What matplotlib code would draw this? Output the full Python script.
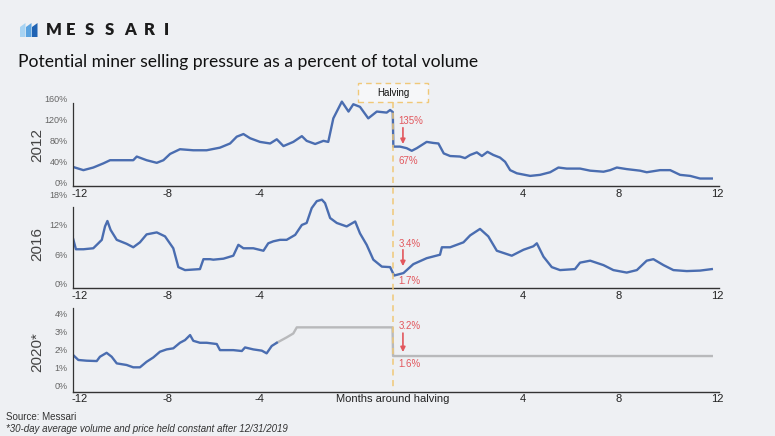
import matplotlib
matplotlib.use("Agg")
import matplotlib.pyplot as plt
import matplotlib.transforms as mtransforms
from matplotlib.patches import Rectangle, Polygon
from matplotlib.lines import Line2D

plt.rcParams["font.family"] = ["Liberation Sans", "DejaVu Sans"]

# ── data (months around halving, % of total volume) ──────────────────────────
x_2012 = [-11.99, -11.61, -11.24, -10.86, -10.61, -10.24, -9.74, -9.61, -9.24, -8.86,
          -8.61, -8.36, -7.99, -7.49, -6.99, -6.49, -6.11, -5.86, -5.61, -5.36,
          -4.99, -4.61, -4.36, -4.11, -3.74, -3.42, -3.24, -2.92, -2.61, -2.43,
          -2.24, -1.92, -1.67, -1.49, -1.24, -0.93, -0.61, -0.24, -0.11, -0.01,
          0.01, 0.26, 0.51, 0.70, 0.89, 1.26, 1.51, 1.70, 1.90, 2.14,
          2.51, 2.70, 2.89, 3.14, 3.33, 3.54, 3.76, 4.01, 4.20, 4.39,
          4.64, 5.14, 5.51, 5.89, 6.20, 6.51, 7.01, 7.39, 7.89, 8.14,
          8.39, 8.76, 9.26, 9.51, 10.01, 10.39, 10.76, 11.14, 11.51, 11.95]
y_2012 = [30, 24, 29, 37, 43, 43, 43, 50, 43, 38,
          43, 55, 64, 62, 62, 67, 75, 88, 93, 85,
          78, 75, 83, 70, 78, 89, 80, 74, 80, 78,
          123, 155, 136, 150, 145, 123, 136, 134, 139, 135,
          69, 69, 66, 61, 66, 78, 76, 75, 56, 51,
          50, 47, 53, 58, 51, 59, 53, 48, 40, 24,
          18, 13, 15, 20, 29, 27, 27, 23, 21, 24,
          29, 26, 23, 20, 24, 24, 15, 13, 8, 8]

x_2016 = [-11.99, -11.89, -11.61, -11.24, -11.05, -10.92, -10.80, -10.71, -10.59, -10.36,
          -9.99, -9.74, -9.49, -9.24, -8.86, -8.55, -8.24, -8.05, -7.80, -7.24,
          -7.11, -6.86, -6.74, -6.36, -5.99, -5.80, -5.61, -5.24, -4.86, -4.68,
          -4.49, -4.24, -3.99, -3.67, -3.42, -3.24, -3.05, -2.86, -2.67, -2.55,
          -2.36, -2.11, -1.74, -1.42, -1.24, -0.99, -0.74, -0.42, -0.11, 0.04,
          0.39, 0.76, 1.26, 1.76, 1.83, 2.14, 2.64, 2.89, 3.26, 3.57,
          3.89, 4.45, 4.89, 5.26, 5.39, 5.64, 5.95, 6.26, 6.82, 7.01,
          7.39, 7.89, 8.26, 8.76, 9.14, 9.51, 9.76, 10.14, 10.51, 11.01,
          11.51, 11.95]
y_2016 = [9.0, 7.0, 7.0, 7.2, 8.2, 8.9, 11.6, 12.7, 10.9, 8.9,
          8.1, 7.4, 8.4, 10.0, 10.4, 9.6, 7.2, 3.4, 2.8, 3.0,
          5.0, 5.0, 4.9, 5.1, 5.7, 7.9, 7.2, 7.2, 6.7, 8.2,
          8.6, 8.9, 8.9, 9.9, 11.9, 12.3, 15.3, 16.7, 17.0, 16.3,
          13.3, 12.3, 11.6, 12.6, 10.2, 7.9, 4.9, 3.5, 3.4, 1.7,
          2.2, 4.0, 5.2, 5.9, 7.4, 7.4, 8.4, 9.8, 11.1, 9.6,
          6.7, 5.7, 6.9, 7.6, 8.2, 5.5, 3.4, 2.8, 3.0, 4.3,
          4.7, 3.8, 2.8, 2.3, 2.8, 4.7, 5.0, 3.8, 2.8, 2.6,
          2.7, 3.0]

x_2020 = [-11.99, -11.80, -11.49, -11.11, -10.99, -10.74, -10.55, -10.36, -9.99, -9.74,
          -9.49, -9.24, -8.99, -8.74, -8.49, -8.24, -7.99, -7.80, -7.61, -7.49,
          -7.24, -6.99, -6.61, -6.49, -5.99, -5.67, -5.55, -5.24, -4.92, -4.74,
          -4.55, -4.36]
y_2020 = [1.67, 1.40, 1.36, 1.34, 1.58, 1.80, 1.58, 1.21, 1.12, 0.99,
          0.99, 1.30, 1.54, 1.86, 1.99, 2.05, 2.36, 2.51, 2.79, 2.47,
          2.36, 2.36, 2.29, 1.95, 1.95, 1.90, 2.10, 1.99, 1.92, 1.77,
          2.18, 2.36]

# held constant after 12/31/2019
x_2020_proj = [-4.36, -3.99, -3.74, -3.61, -0.02, 0.0, 11.95]
y_2020_proj = [2.36, 2.66, 2.88, 3.22, 3.22, 1.62, 1.62]

tick_pos = [-11.75, -8.45, -5.0, 4.85, 8.45, 12.15]
tick_lab = ["-12", "-8", "-4", "4", "8", "12"]

BG = "#eef0f3"
BLUE = "#4a6db0"
GRAY = "#b8b9bb"
RED = "#e2575d"
ORANGE = "#f0c878"
NARROW = ["Liberation Sans Narrow", "Liberation Sans", "DejaVu Sans"]

fig = plt.figure(figsize=(7.75, 4.36), dpi=100, facecolor=BG)

W, H = 775, 436
def axes_px(top, bottom):
    return [73 / W, 1 - bottom / H, 646 / W, (bottom - top) / H]

panels = [
    dict(rect=axes_px(99, 186), ylim=(-6.3, 160), spine_top=153,
         yticks=[0, 40, 80, 120, 160], ylab="2012",
         series=[(x_2012, y_2012, BLUE)],
         ann=("135%", 117, 105, 74, "67%", 41.5)),
    dict(rect=axes_px(194.7, 288), ylim=(-0.81, 18), spine_top=15.6,
         yticks=[0, 6, 12, 18], ylab="2016",
         series=[(x_2016, y_2016, BLUE)],
         ann=("3.4%", 8.1, 6.9, 3.6, "1.7%", 0.67)),
    dict(rect=axes_px(308, 391.7), ylim=(-0.37, 4.3), spine_top=4.3,
         yticks=[0, 1, 2, 3, 4], ylab="2020*",
         series=[(x_2020_proj, y_2020_proj, GRAY), (x_2020, y_2020, BLUE)],
         ann=("3.2%", 3.3, 2.9, 1.84, "1.6%", 1.17)),
]

axes = []
for i, p in enumerate(panels):
    ax = fig.add_axes(p["rect"])
    ax.set_facecolor("none")
    for xs, ys, c in p["series"]:
        ax.plot(xs, ys, color=c, lw=1.7, solid_joinstyle="round")
    ax.set_xlim(-12, 12.22)
    ax.set_ylim(*p["ylim"])
    ax.spines["top"].set_visible(False)
    ax.spines["right"].set_visible(False)
    ax.spines["left"].set_bounds(p["ylim"][0], p["spine_top"])
    ax.spines["left"].set_color("#333333")
    ax.spines["bottom"].set_color("#333333")
    ax.spines["left"].set_linewidth(0.9)
    ax.spines["bottom"].set_linewidth(1.0)
    ax.set_yticks(p["yticks"])
    ax.set_yticklabels([f"{v}%" for v in p["yticks"]], family=NARROW)
    if i == 2:
        ax.set_xticks(tick_pos + [0])
        ax.set_xticklabels(tick_lab + ["Months around halving"])
    else:
        ax.set_xticks(tick_pos)
        ax.set_xticklabels(tick_lab)
    ax.tick_params(axis="both", length=0)
    ax.tick_params(axis="y", labelsize=6.5, labelcolor="#666666", pad=4)
    ax.tick_params(axis="x", labelsize=8, labelcolor="#222222", pad=2)
    pos = ax.get_position()
    fig.text(37 / W, pos.y0 + pos.height * 0.47, p["ylab"],
             rotation=90, ha="center", va="center", fontsize=11, color="#444444")

    txt_hi, y_hi, y_a0, y_a1, txt_lo, y_lo = p["ann"]
    ax.text(0.2, y_hi, txt_hi, color=RED, fontsize=7, ha="left", va="center", family=NARROW)
    ax.text(0.2, y_lo, txt_lo, color=RED, fontsize=7, ha="left", va="center", family=NARROW)
    ax.annotate("", xy=(0.37, y_a1), xytext=(0.37, y_a0),
                arrowprops=dict(arrowstyle="-|>", color=RED, lw=1.2, mutation_scale=7,
                                shrinkA=0, shrinkB=0))
    axes.append(ax)

# halving line and box spanning the three panels
trans = mtransforms.blended_transform_factory(axes[0].transData, fig.transFigure)
fig.add_artist(Line2D([0, 0], [1 - 102 / H, 1 - 391 / H], transform=trans,
                      color=ORANGE, lw=1.1, ls=(0, (4, 3))))
box_w = 70 / 26.67
fig.add_artist(Rectangle((-box_w / 2, 1 - 102 / H), box_w, 19 / H, transform=trans,
                         facecolor="#f6f7f9", edgecolor=ORANGE, lw=1.0, ls=(0, (4, 3))))
fig.text(0, 1 - 92.5 / H, "Halving", transform=trans, ha="center", va="center",
         fontsize=7, color="#111111")

# header
fig.text(18 / W, 1 - 62 / H, "Potential miner selling pressure as a percent of total volume",
         fontsize=12.6, color="#111111", ha="left", va="center", family=["Lato", "DejaVu Sans"])
for k, ch in enumerate("MESSARI"):
    fig.text((46 + k * 19.6) / W, 1 - 30 / H, ch, fontsize=12, fontweight="heavy",
             color="#1c1c1c", ha="left", va="center", family=["Lato", "DejaVu Sans"])
for (x0, c) in [(20, "#a7d3f2"), (26, "#5aa3e0"), (32, "#1f63b3")]:
    fig.add_artist(Polygon([(x0 / W, 1 - 37 / H), ((x0 + 5.5) / W, 1 - 37 / H),
                            ((x0 + 5.5) / W, 1 - 23 / H), (x0 / W, 1 - 27 / H)],
                           closed=True, transform=fig.transFigure, facecolor=c, edgecolor="none"))

# footer
fig.text(6 / W, 1 - 417 / H, "Source: Messari", fontsize=7, color="#333333",
         ha="left", va="center", family=NARROW)
fig.text(6 / W, 1 - 428.5 / H, "*30-day average volume and price held constant after 12/31/2019",
         fontsize=7, color="#333333", ha="left", va="center", style="italic", family=NARROW)

fig.savefig("out.png", dpi=100, facecolor=BG)
